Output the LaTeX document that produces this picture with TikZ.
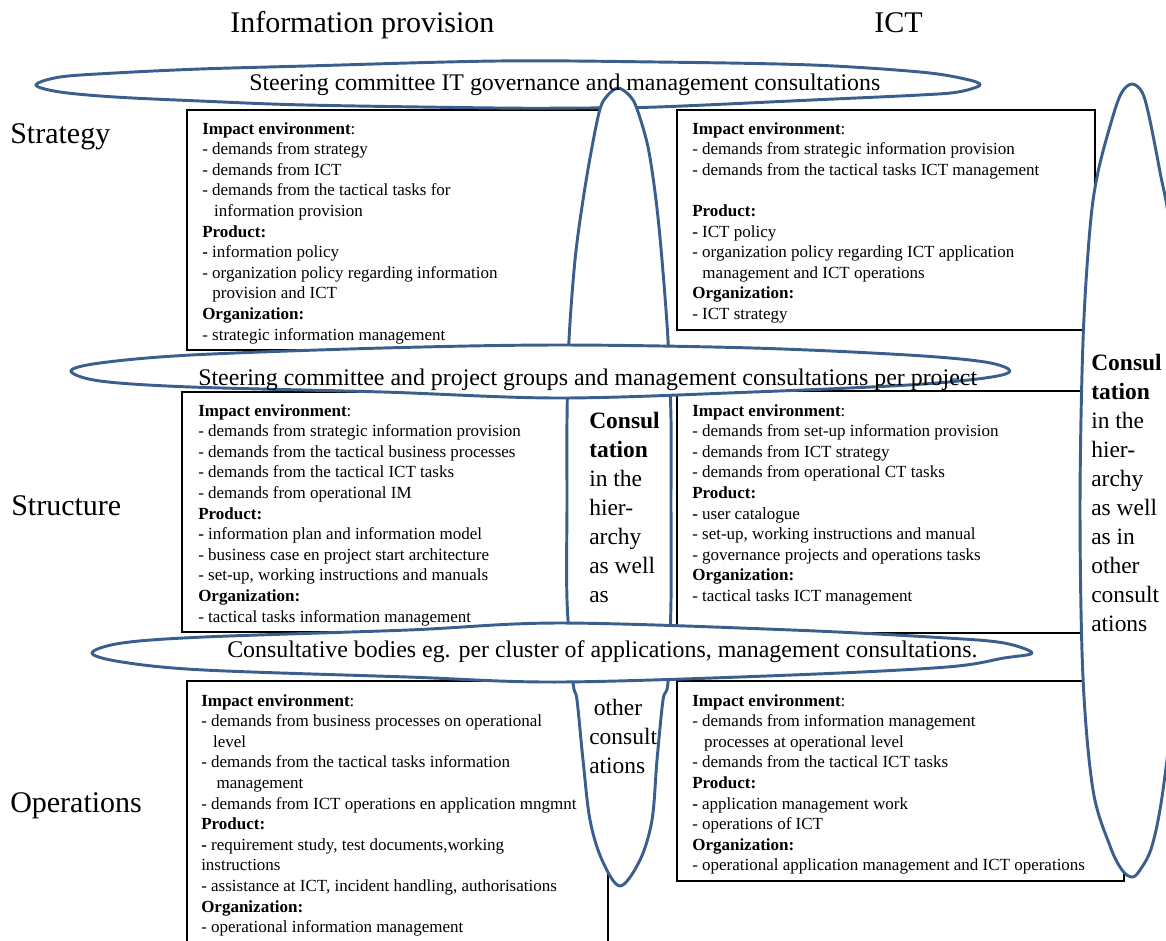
\documentclass[tikz,border=0pt]{standalone}
\usepackage{fontspec}
\setmainfont{Liberation Serif}
\usepackage{tikz}
\definecolor{loopblue}{RGB}{58,95,140}
\tikzset{
  cellbox/.style={draw=black, line width=2.2pt},
  bubble/.style={draw=loopblue, line width=2.2pt, fill=white, line join=round},
  celltext/.style={anchor=north west, align=left, inner sep=0pt, font=\fontsize{12.75}{15.45}\selectfont},
  bandtext/.style={anchor=base west, inner sep=0pt, font=\fontsize{17.9}{21}\selectfont},
  looptext/.style={anchor=north west, align=left, inner sep=0pt, font=\fontsize{17.6}{21.75}\selectfont},
  heading/.style={anchor=base west, inner sep=0pt, font=\fontsize{22.5}{27}\selectfont}
}
\newcommand{\hd}[1]{\textbf{#1}}

\begin{document}
\begin{tikzpicture}[x=0.75pt, y=-0.75pt]
  \useasboundingbox (0,0) rectangle (1166,940);
  \clip (0,0) rectangle (1166,940);

      \draw[cellbox] (187,110) rectangle (600,350);
  \draw[cellbox] (677,110) rectangle (1095,330);
      \draw[cellbox] (182,392) rectangle (600,632);
  \draw[cellbox] (677,391) rectangle (1090,633);
      \draw[cellbox] (187,681) rectangle (608,960);
  \draw[cellbox] (677,681) rectangle (1124,881);

  \draw[bubble] plot[smooth cycle, tension=0.55] coordinates {(1132,84) (1142,92) (1149,116) (1160,172) (1170,228) (1178,341) (1180,509) (1175,678) (1163,790) (1152,846) (1140,870) (1132,877) (1122,870) (1110,846) (1093,790) (1083,678) (1080,509) (1083,341) (1090,228) (1098,172) (1113,116) (1122,92)};
  \draw[bubble] plot[smooth cycle, tension=0.55] coordinates {(36,85) (60,77) (115,73) (200,69) (306,66) (497,61) (657,62) (812,65) (920,72) (965,79) (980,85) (958,92) (920,95) (812,100) (657,107) (580,108) (497,108) (306,105) (200,101) (115,97) (60,92)};
  \draw[bubble] plot[smooth cycle, tension=0.55] coordinates {(618,88) (630,96) (637,109) (648,147) (656,200) (662,260) (668,340) (671,420) (671,500) (671,600) (668,682) (663,700) (657,760) (652,820) (640,860) (620,886) (602,860) (590,820) (583,760) (577,700) (573,682) (567,600) (567,500) (567,420) (569,340) (575,260) (583,200) (592,147) (600,109) (607,96)};
  \draw[bubble] plot[smooth cycle, tension=0.55] coordinates {(71,371) (100,363) (191,355) (383,348) (560,345) (753,348) (908,355) (985,362) (1010,371) (985,378) (908,385) (753,392) (560,398) (383,392) (191,387) (100,381)};
  \draw[bubble] plot[smooth cycle, tension=0.55] coordinates {(92,653) (122,643) (204,637) (408,630) (560,623) (792,630) (947,638) (1004,643) (1032,653) (1004,658) (947,667) (792,675) (560,682) (408,677) (204,670) (122,662)};

  \draw (230,32) node[heading] (infoprov) {Information provision};
  \draw (874,32) node[heading] (ict) {ICT};
  \draw (10,143) node[heading] (strategy) {Strategy};
  \draw (11,515) node[heading] (structure) {Structure};
  \draw (10,812) node[heading] (operations) {Operations};

  \draw (249,90) node[bandtext] (steering) {Steering committee IT governance and management consultations};
  \draw (198,385) node[bandtext] (project) {Steering committee and project groups and management consultations per project};
  \draw (227,657) node[bandtext] (bodies) {Consultative bodies eg. per cluster of applications, management consultations.};

  \draw (589,412) node[looptext] (midconsult) {\hd{Consul}\\ \hd{tation}\\ in the\\ hier-\\ archy\\ as well\\ as};
  \draw (589,699) node[looptext] (midother) {\hspace*{3.5pt}other\\ consult\\ ations};
  \draw (1091,354) node[looptext] (rightconsult) {\hd{Consul}\\ \hd{tation}\\ in the\\ hier-\\ archy\\ as well\\ as in\\ other\\ consult\\ ations};

  \draw (202,122) node[celltext] (infostrategy) {\hd{Impact environment}:\\
- demands from strategy\\
- demands from ICT\\
- demands from the tactical tasks for\\
\hspace*{0.7em}information provision\\
\hd{Product:}\\
\hd{-} information policy\\
- organization policy regarding information\\
\hspace*{0.6em}provision and ICT\\
\hd{Organization:}\\
- strategic information management};
  \draw (692,122) node[celltext] (ictstrategy) {\hd{Impact environment}:\\
- demands from strategic information provision\\
- demands from the tactical tasks ICT management\\[15.45pt]
\hd{Product:}\\
\hd{-} ICT policy\\
- organization policy regarding ICT application\\
\hspace*{0.6em}management and ICT operations\\
\hd{Organization:}\\
- ICT strategy};
  \draw (198,404) node[celltext] (infostructure) {\hd{Impact environment}:\\
- demands from strategic information provision\\
- demands from the tactical business processes\\
- demands from the tactical ICT tasks\\
- demands from operational IM\\
\hd{Product:}\\
\hd{-} information plan and information model\\
- business case en project start architecture\\
- set-up, working instructions and manuals\\
\hd{Organization:}\\
- tactical tasks information management};
  \draw (692,404) node[celltext] (ictstructure) {\hd{Impact environment}:\\
- demands from set-up information provision\\
- demands from ICT strategy\\
- demands from operational CT tasks\\
\hd{Product:}\\
\hd{-} user catalogue\\
- set-up, working instructions and manual\\
- governance projects and operations tasks\\
\hd{Organization:}\\
- tactical tasks ICT management};
  \draw (201,694) node[celltext] (infooperations) {\hd{Impact environment}:\\
- demands from business processes on operational\\
\hspace*{0.7em}level\\
- demands from the tactical tasks information\\
\hspace*{0.9em}management\\
- demands from ICT operations en application mngmnt\\
\hd{Product:}\\
\hd{-} requirement study, test documents,working\\
instructions\\
- assistance at ICT, incident handling, authorisations\\
\hd{Organization:}\\
- operational information management};
  \draw (692,694) node[celltext] (ictoperations) {\hd{Impact environment}:\\
- demands from information management\\
\hspace*{0.7em}processes at operational level\\
- demands from the tactical ICT tasks\\
\hd{Product:}\\
\hd{-} application management work\\
- operations of ICT\\
\hd{Organization:}\\
- operational application management and ICT operations};
\end{tikzpicture}
\end{document}
